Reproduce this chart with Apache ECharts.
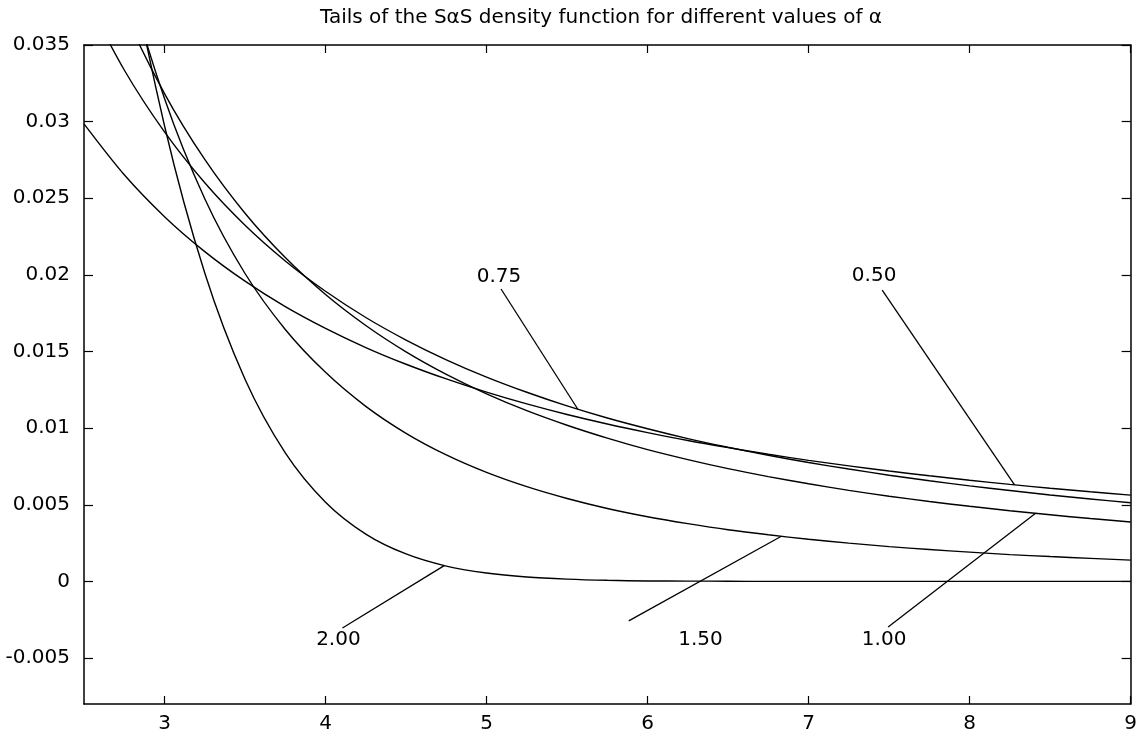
<!DOCTYPE html>
<html>
<head>
<meta charset="utf-8">
<script src="https://cdn.jsdelivr.net/npm/echarts@6/dist/echarts.min.js"></script>
<style>
  html, body { margin: 0; padding: 0; background: #fff; }
  #chart { width: 1140px; height: 736px; }
</style>
</head>
<body>
<div id="chart"></div>
<script>
// Sample positions along x
const xs = [2.5, 2.75, 3, 3.25, 3.5, 3.75, 4, 4.25, 4.5, 4.75, 5, 5.25, 5.5, 5.75,
            6, 6.25, 6.5, 6.75, 7, 7.25, 7.5, 7.75, 8, 8.25, 8.5, 8.75, 9];

// SaS density values, one array per characteristic exponent alpha
const alpha050 = [0.02985, 0.02653, 0.02380, 0.02152, 0.01959, 0.01793, 0.01651, 0.01526, 0.01417, 0.01321,
                  0.01235, 0.01158, 0.01089, 0.01027, 0.00971, 0.00919, 0.00873, 0.00830, 0.00790, 0.00754,
                  0.00720, 0.00689, 0.00660, 0.00633, 0.00608, 0.00585, 0.00563];
const alpha075 = [0.03835, 0.03337, 0.02933, 0.02601, 0.02324, 0.02091, 0.01893, 0.01722, 0.01575, 0.01446,
                  0.01333, 0.01234, 0.01145, 0.01066, 0.00996, 0.00932, 0.00875, 0.00823, 0.00776, 0.00733,
                  0.00693, 0.00657, 0.00623, 0.00593, 0.00564, 0.00538, 0.00513];
const alpha100 = [0.04390, 0.03718, 0.03183, 0.02753, 0.02402, 0.02113, 0.01872, 0.01670, 0.01498, 0.01351,
                  0.01224, 0.01114, 0.01019, 0.00935, 0.00860, 0.00795, 0.00736, 0.00684, 0.00637, 0.00594,
                  0.00556, 0.00521, 0.00490, 0.00461, 0.00435, 0.00410, 0.00388];
const alpha150 = [0.05115, 0.04020, 0.03151, 0.02497, 0.02009, 0.01644, 0.01364, 0.01142, 0.00966, 0.00825,
                  0.00711, 0.00618, 0.00541, 0.00476, 0.00422, 0.00377, 0.00337, 0.00304, 0.00275, 0.00250,
                  0.00227, 0.00208, 0.00191, 0.00175, 0.00162, 0.00150, 0.00139];
const alpha200 = [0.05913, 0.04259, 0.02973, 0.02012, 0.01319, 0.00839, 0.00517, 0.00309, 0.00179, 0.00100,
                  0.00055, 0.00029, 0.00015, 0.00007, 0.00003, 0.00002, 0.00001, 0, 0, 0,
                  0, 0, 0, 0, 0, 0, 0];

const curveNames = ['0.50', '0.75', '1.00', '1.50', '2.00'];
const curveValues = [alpha050, alpha075, alpha100, alpha150, alpha200];

// Axis ticks
const xTicks = [3, 4, 5, 6, 7, 8, 9];
const yTicks = [-0.005, 0, 0.005, 0.01, 0.015, 0.02, 0.025, 0.03, 0.035];
const yTickLabels = ['-0.005', '0', '0.005', '0.01', '0.015', '0.02', '0.025', '0.03', '0.035'];

const TITLE = 'Tails of the S\u03b1S density function for different values of \u03b1';

// Curve callouts: where the text sits, where its leader starts, and the x where it meets the curve
const callouts = [
  { curve: 1, text: [5.077, 0.01986], from: [5.090, 0.01908], toX: 5.567 },
  { curve: 0, text: [7.407, 0.01993], from: [7.457, 0.01901], toX: 8.279 },
  { curve: 4, text: [4.080, -0.00382], from: [4.105, -0.00304], toX: 4.737 },
  { curve: 3, text: [6.329, -0.00382], from: [5.883, -0.00258], toX: 6.831 },
  { curve: 2, text: [7.469, -0.00382], from: [7.494, -0.00298], toX: 8.41 }
];

// Value of a curve at x, interpolated between samples (log-linear where positive)
function valueAt(vals, x) {
  for (let i = 0; i < xs.length - 1; i++) {
    if (x >= xs[i] && x <= xs[i + 1]) {
      const t = (x - xs[i]) / (xs[i + 1] - xs[i]);
      const a = vals[i], b = vals[i + 1];
      if (a > 0 && b > 0) return Math.exp(Math.log(a) + t * (Math.log(b) - Math.log(a)));
      return a + t * (b - a);
    }
  }
  return vals[vals.length - 1];
}

const FONT = 'DejaVu Sans';
const INK = '#000';

const curveSeries = curveValues.map((vals, k) => ({
  name: curveNames[k],
  type: 'line',
  data: xs.map((x, i) => [x, vals[i]]),
  smooth: 0.3,
  symbol: 'none',
  clip: true,
  silent: true,
  lineStyle: { color: INK, width: 1.4 }
}));

const leaderSeries = callouts.map(c => ({
  type: 'line',
  data: [c.from, [c.toX, valueAt(curveValues[c.curve], c.toX)]],
  symbol: 'none',
  silent: true,
  lineStyle: { color: INK, width: 1.3 }
}));

const labelSeries = {
  type: 'scatter',
  symbolSize: 0,
  silent: true,
  itemStyle: { opacity: 1 },
  data: callouts.map(c => ({ value: c.text, name: curveNames[c.curve] })),
  label: {
    show: true,
    position: 'inside',
    formatter: '{b}',
    color: '#000',
    opacity: 1,
    fontSize: 20,
    fontFamily: FONT
  }
};

const axisLineStyle = { color: '#000', width: 1.5 };
const tickStyle = { color: '#000', width: 1.2 };

function xAxisDef(pos, withLabels) {
  return {
    type: 'value', min: 2.5, max: 9, position: pos,
    axisLine: { show: true, onZero: false, lineStyle: axisLineStyle },
    axisTick: { show: true, inside: true, length: 8, customValues: xTicks, lineStyle: tickStyle },
    axisLabel: withLabels
      ? { show: true, customValues: xTicks, color: '#000', fontSize: 20, fontFamily: FONT, margin: 10 }
      : { show: false },
    splitLine: { show: false }
  };
}

function yAxisDef(pos, withLabels) {
  return {
    type: 'value', min: -0.008, max: 0.035, position: pos,
    axisLine: { show: true, onZero: false, lineStyle: axisLineStyle },
    axisTick: { show: true, inside: true, length: 9, customValues: yTicks, lineStyle: tickStyle },
    axisLabel: withLabels
      ? {
          show: true, customValues: yTicks, color: '#000', fontSize: 20, fontFamily: FONT, margin: 14,
          formatter: v => {
            const i = yTicks.findIndex(t => Math.abs(t - v) < 1e-9);
            return i >= 0 ? yTickLabels[i] : '';
          }
        }
      : { show: false },
    splitLine: { show: false }
  };
}

const chart = echarts.init(document.getElementById('chart'), null, { renderer: 'canvas' });
chart.setOption({
  animation: false,
  backgroundColor: '#fff',
  grid: { left: 84, right: 7, top: 45, bottom: 32, containLabel: false },
  xAxis: [xAxisDef('bottom', true), xAxisDef('top', false)],
  yAxis: [yAxisDef('left', true), yAxisDef('right', false)],
  graphic: [{
    type: 'text', x: 601, y: 18, silent: true,
    style: {
      text: TITLE, fill: '#000', fontSize: 20, fontFamily: FONT,
      align: 'center', verticalAlign: 'middle'
    }
  }],
  series: [...curveSeries, ...leaderSeries, labelSeries]
});
</script>
</body>
</html>
